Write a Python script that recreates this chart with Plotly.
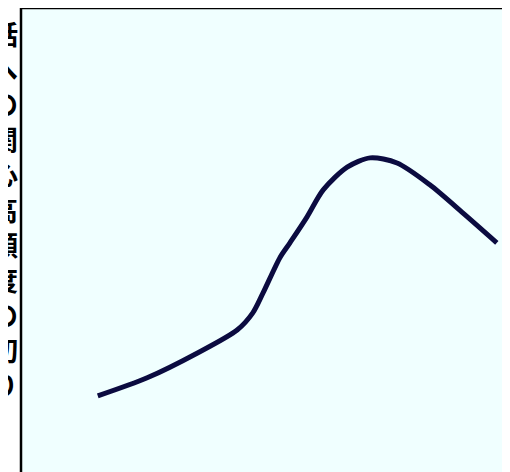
import plotly.graph_objects as go

# Curve values (arbitrary 0-100 scales)
x_vals = [15.7, 25.8, 36.0, 44.2, 47.4, 49.5, 53.0, 55.0, 58.5, 61.8, 66.7, 71.4, 76.9, 83.6, 90.4, 97.3]
y_vals = [16.4, 20.3, 25.6, 30.6, 34.3, 38.6, 46.3, 49.4, 55.0, 60.8, 65.7, 67.7, 66.6, 61.9, 55.8, 49.4]

# Vertical label (clipped at the left edge in the reference)
label_chars = ["話", "へ", "の", "関", "心", "高", "頻", "度", "の", "切", "り"]

fig = go.Figure()
fig.add_trace(go.Scatter(
    x=x_vals, y=y_vals, mode="lines",
    line=dict(color="#0b0b40", width=5, shape="spline", smoothing=0.8),
    hoverinfo="skip", showlegend=False,
))

fig.add_annotation(
    text="<br>".join(label_chars),
    xref="paper", yref="paper", x=-0.033, y=0.567,
    xanchor="center", yanchor="middle", showarrow=False,
    font=dict(family="Noto Sans CJK JP", size=27, color="#000000", weight="bold"),
)

# Top and left border of the plot frame
fig.add_shape(type="line", xref="paper", yref="paper", x0=0, x1=1.05, y0=1, y1=1,
              line=dict(color="#000000", width=2.5))
fig.add_shape(type="line", xref="paper", yref="paper", x0=0, x1=0, y0=-0.05, y1=1,
              line=dict(color="#000000", width=2.5))

fig.update_xaxes(range=[0, 100], visible=False, showgrid=False, zeroline=False)
fig.update_yaxes(range=[0, 100], visible=False, showgrid=False, zeroline=False)

fig.update_layout(
    width=502, height=464,
    margin=dict(l=13, r=0, t=0, b=0),
    paper_bgcolor="#ffffff",
    plot_bgcolor="#f0ffff",
    showlegend=False,
)

fig.write_html("out.html")
